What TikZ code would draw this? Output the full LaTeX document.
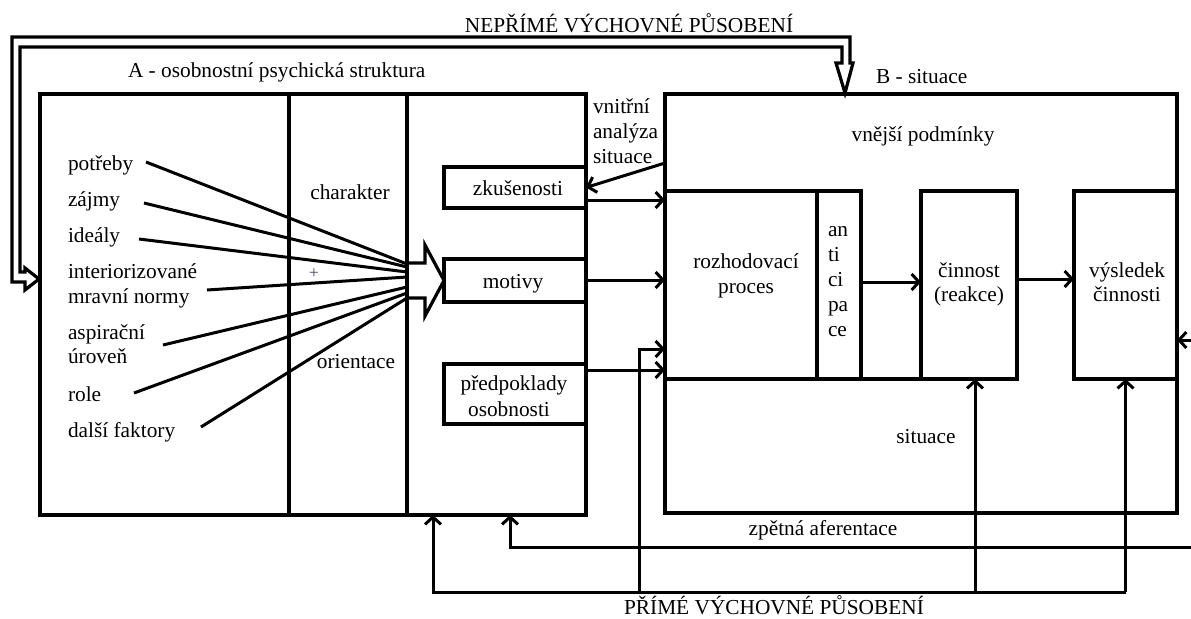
\documentclass[tikz,border=0pt]{standalone}
\usepackage{fontspec}
\setmainfont{Liberation Serif}
\usetikzlibrary{arrows.meta}
\begin{document}
\begin{tikzpicture}[x=0.75pt,y=-0.75pt,
  every node/.style={inner sep=0pt, outer sep=0pt},
  sz/.style 2 args={minimum width=#1*0.75pt, minimum height=#2*0.75pt},
  box/.style={draw, line width=2.7pt},
  wall/.style={line width=2.7pt},
  txt/.style={font=\fontsize{16}{18}\selectfont},
  con/.style={line width=2.25pt, -{Straight Barb[length=5.5pt,width=12pt]}},
  fanline/.style={line width=2.25pt},
  hollow/.style={line width=2.4pt, line join=miter},
]
\useasboundingbox (0,0) rectangle (1191,618);

% --- block A ---
\node[box, sz={546}{421}] (A) at (313,304.5) {};
\draw[wall] (A.north -| 289,0) -- (A.south -| 289,0);
\draw[wall] (A.north -| 407,0) -- (A.south -| 407,0);
\node[box, sz={142}{41}] (zk) at (515,187.5) {};
\node[box, sz={142}{43}] (mot) at (515,280.5) {};
\node[box, sz={142}{60}] (pred) at (515,394) {};

% --- block B ---
\node[box, sz={512}{419}] (B) at (921,303.5) {};
\node[box, sz={152}{188}] (roz) at (741,285) {};
\node[box, sz={44}{188}] (ant) at (839,285) {};
\node[box, sz={96}{188}] (cin) at (969,285) {};
\node[box, sz={103}{188}] (vys) at (1125.5,285) {};
\draw[wall] (ant.south east) -- (cin.south west);

% --- texts ---
\node[txt, anchor=base] (nep) at (629,32) {NEPŘÍMÉ VÝCHOVNÉ PŮSOBENÍ};
\node[txt, anchor=base west] (tA) at (128,77) {A - osobnostní psychická struktura};
\node[txt, anchor=base west] (tB) at (876,83) {B - situace};
\node[txt, anchor=base west] (va1) at (593,113) {vnitřní};
\node[txt, anchor=base west] (va2) at (593,138) {analýza};
\node[txt, anchor=base west] (va3) at (593,163) {situace};
\node[txt, anchor=base] (vp) at (923,141) {vnější podmínky};
\node[txt, anchor=base] (char) at (350,199) {charakter};
\node[txt, anchor=base] (orie) at (356,368) {orientace};
\node[font=\fontsize{13}{13}\selectfont, text={rgb,255:red,80;green,60;blue,100}] (plus) at (314,274) {+};
\node[txt, anchor=base west] (l1) at (68,170) {potřeby};
\node[txt, anchor=base west] (l2) at (68,206) {zájmy};
\node[txt, anchor=base west] (l3) at (68,242) {ideály};
\node[txt, anchor=base west] (l4a) at (68,278) {interiorizované};
\node[txt, anchor=base west] (l4b) at (68,303) {mravní normy};
\node[txt, anchor=base west] (l5a) at (68,339) {aspirační};
\node[txt, anchor=base west] (l5b) at (68,363) {úroveň};
\node[txt, anchor=base west] (l6) at (68,401) {role};
\node[txt, anchor=base west] (l7) at (68,437) {další faktory};
\node[txt, anchor=base] (tzk) at (518,195) {zkušenosti};
\node[txt, anchor=base] (tmot) at (513,288) {motivy};
\node[txt, anchor=base] (tpr1) at (514,390) {předpoklady};
\node[txt, anchor=base] (tpr2) at (509,416) {osobnosti};
\node[txt, anchor=base] (troz1) at (746,268) {rozhodovací};
\node[txt, anchor=base] (troz2) at (746,293) {proces};
\node[txt, anchor=base west] (ta1) at (828,236) {an};
\node[txt, anchor=base west] (ta2) at (828,261) {ti};
\node[txt, anchor=base west] (ta3) at (828,286) {ci};
\node[txt, anchor=base west] (ta4) at (828,311) {pa};
\node[txt, anchor=base west] (ta5) at (828,336) {ce};
\node[txt, anchor=base] (tc1) at (969,277) {činnost};
\node[txt, anchor=base] (tc2) at (969,301) {(reakce)};
\node[txt, anchor=base] (tv1) at (1127,277) {výsledek};
\node[txt, anchor=base] (tv2) at (1127,301) {činnosti};
\node[txt, anchor=base] (tsit) at (926,443) {situace};
\node[txt, anchor=base] (tzp) at (823,535) {zpětná aferentace};
\node[txt, anchor=base] (tpr) at (774,614) {PŘÍMÉ VÝCHOVNÉ PŮSOBENÍ};

% --- fan of factors into the hollow arrow ---
\coordinate (f1) at (146,162);
\coordinate (f2) at (144,203);
\coordinate (f3) at (139,239);
\coordinate (f4) at (207,290);
\coordinate (f5) at (163,345);
\coordinate (f6) at (134,393);
\coordinate (f7) at (201,427);
\draw[fanline] (f1) -- (407,264);
\draw[fanline] (f2) -- (407,267);
\draw[fanline] (f3) -- (407,272);
\draw[fanline] (f4) -- (407,277);
\draw[fanline] (f5) -- (407,287);
\draw[fanline] (f6) -- (407,293);
\draw[fanline] (f7) -- (407,298);
\draw[hollow] (407,263) -- (425,263) -- (425,245) -- (mot.west) -- (425,316) -- (425,298) -- (407,298);

% --- indirect educational influence: double-line hollow arrow ---
\coordinate (tipA) at (39,279);
\coordinate (tipB) at (845,93);
\draw[hollow] (tipA) -- (25,268) -- (25,272) -- (20,272) -- (20,47) -- (842,47) -- (842,63)
  -- (836,63) -- (tipB) -- (853,63) -- (850,63) -- (850,37) -- (12,37) -- (12,282)
  -- (25,282) -- (25,290) -- cycle;

% --- connectors ---
\coordinate (vaS) at (B.west |- 0,163);
\draw[con] (vaS) -- (zk.east);
\draw[con] (zk.east |- 0,200) -- (roz.west |- 0,200);
\draw[con] (mot.east |- 0,280) -- (roz.west |- 0,280);
\draw[con] (pred.east |- 0,370) -- (roz.west |- 0,370);
\draw[con] (ant.east |- 0,282) -- (cin.west |- 0,282);
\draw[con] (cin.east |- 0,279) -- (vys.west |- 0,279);

% direct educational influence loop
\coordinate (p1) at (vys.south |- 0,592);
\coordinate (p2) at (975,592);
\coordinate (p3) at (639,592);
\coordinate (p4) at (433,592);
\draw[con] (p1) -- (p4) -- (A.south -| p4);
\draw[con] (p1) -- (vys.south);
\draw[con] (p2) -- (cin.south -| p2);
\draw[con] (p3) -- (639,349) -- (roz.west |- 0,349);

% feedback afferentation loop
\coordinate (z1) at (1191,547);
\coordinate (z2) at (510,547);
\coordinate (z3) at (1191,340);
\draw[con] (z1) -- (z2) -- (A.south -| z2);
\draw[con] (z3) -- (vys.east |- z3);
\end{tikzpicture}
\end{document}
